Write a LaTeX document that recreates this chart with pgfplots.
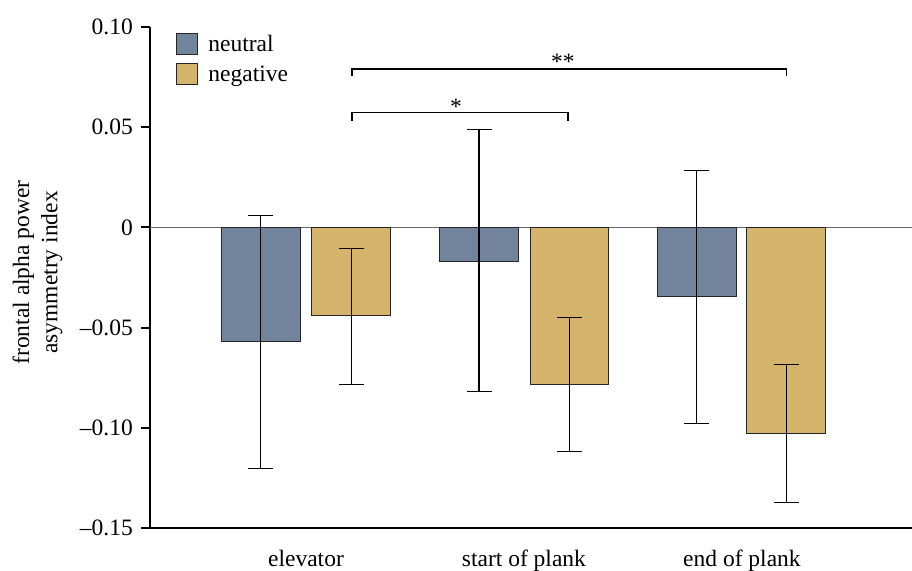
\documentclass[border=0pt]{standalone}
\usepackage{fontspec}
\setmainfont{Liberation Serif}
\usepackage{pgfplots}
\pgfplotsset{compat=1.18}
\usepackage{pgfplotstable}
\definecolor{neu}{HTML}{72839C}
\definecolor{neg}{HTML}{D4B36A}
\pgfplotstableread{
x y ep em
-0.208 -0.0570 0.0628 0.0632
0.794 -0.0169 0.0656 0.0650
1.792 -0.0344 0.0627 0.0636
}\neutraltab
\pgfplotstableread{
x y ep em
0.207 -0.0442 0.0335 0.0342
1.209 -0.0784 0.0335 0.0334
2.204 -0.1030 0.0346 0.0342
}\negativetab
\begin{document}
\fontsize{11.75}{14.1}\selectfont
\begin{tikzpicture}
\begin{axis}[
 scale only axis, width=381pt, height=250.5pt,
 at={(0,0)}, anchor=south west,
 xmin=-0.7156, xmax=2.78, ymin=-0.15, ymax=0.10,
 axis x line=bottom, axis y line=left,
 axis line style={-, line width=1pt, black},
 xtick={0,1,2}, xticklabels={elevator, start of plank, end of plank},
 x tick style={draw=none},
 x tick label style={yshift=-2.6pt},
 ytick={-0.15,-0.1,-0.05,0,0.05,0.1},
 yticklabels={--0.15,--0.10,--0.05,0,0.05,0.10},
 tick align=outside, major tick length=4.5pt,
 y tick style={line width=1pt, black},
 ylabel={frontal alpha power\\asymmetry index},
 ylabel style={align=center, at={(axis description cs:-0.1476,0.51)}, anchor=center},
 ybar, bar width=0.362, bar shift=0pt,
 legend image code/.code={\draw[#1] (0pt,-1.6pt) rectangle (10.5pt,8.9pt);},
 legend cell align=left,
 legend style={draw=none, fill=none, inner sep=0pt, at={(axis description cs:0,1)}, anchor=north west, xshift=13pt, yshift=-3pt,
   nodes={inner sep=0pt, text height=8.2pt, text depth=2.6pt, anchor=base west},
   row sep=3pt, /tikz/every odd column/.append style={column sep=5pt}},
]
\draw[black!60, line width=0.5pt] (axis cs:-0.7156,0) -- (axis cs:2.78,0);
\addplot[fill=neu, draw=black!85, line width=0.5pt,
  error bars/.cd, y dir=both, y explicit,
  error bar style={line width=0.6pt, black},
  error mark options={rotate=90, mark size=6.25pt, line width=0.6pt, black}]
  table[x=x, y=y, y error plus=ep, y error minus=em] {\neutraltab};
\addlegendentry{neutral}
\addplot[fill=neg, draw=black!85, line width=0.5pt,
  error bars/.cd, y dir=both, y explicit,
  error bar style={line width=0.6pt, black},
  error mark options={rotate=90, mark size=6.25pt, line width=0.6pt, black}]
  table[x=x, y=y, y error plus=ep, y error minus=em] {\negativetab};
\addlegendentry{negative}
\draw[line width=0.6pt] (axis cs:0.211,0.0753) -- (axis cs:0.211,0.079) -- (axis cs:2.206,0.079) -- (axis cs:2.206,0.0753);
\draw[line width=0.6pt] (axis cs:0.211,0.0532) -- (axis cs:0.211,0.0573) -- (axis cs:1.202,0.0573) -- (axis cs:1.202,0.0532);
\node[anchor=base, inner sep=0pt] at (axis cs:0.688,0.0562) {*};
\node[anchor=base, inner sep=0pt] at (axis cs:1.179,0.0786) {**};
\end{axis}
\pgfresetboundingbox
\path (-75pt,-21.5pt) rectangle (381pt,264pt);
\end{tikzpicture}
\end{document}
